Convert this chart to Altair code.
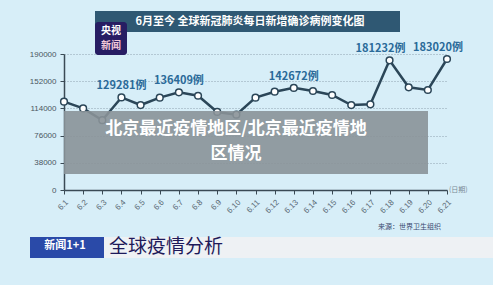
import altair as alt
import pandas as pd

dates = ["6.1","6.2","6.3","6.4","6.5","6.6","6.7","6.8","6.9","6.10","6.11",
         "6.12","6.13","6.14","6.15","6.16","6.17","6.18","6.19","6.20","6.21"]
cases = [123400, 114000, 97500, 129281, 118700, 129000, 136409, 131700, 109000, 105200, 129000,
         137300, 142672, 138300, 132700, 118700, 119700, 181232, 143500, 139700, 183020]
label_dates = ["6.4", "6.7", "6.13"]
label_dates_shift = ["6.18", "6.21"]
y_ticks = [0, 38000, 76000, 114000, 152000, 190000]

df = pd.DataFrame({"date": dates, "cases": cases})
df["label"] = [f"{v}例" for v in cases]

PL, PT, W, H = 64, 54, 383, 136

x = alt.X("date:O", sort=dates, scale=alt.Scale(type="point", padding=0),
          axis=alt.Axis(title=None, labelAngle=315, labelFontSize=8, labelColor="#5a6a75",
                        domainColor="#3a4a55", domainWidth=1.5, tickColor="#3a4a55",
                        tickSize=4, labelPadding=4, grid=False))
y = alt.Y("cases:Q", scale=alt.Scale(domain=[0, 190000], nice=False),
          axis=alt.Axis(title=None, values=y_ticks, format="d", labelFontSize=8,
                        labelColor="#4a5560",
                        domainColor="#3a4a55", domainWidth=1.5, tickColor="#3a4a55",
                        tickSize=4, grid=True, gridColor="#8fa3b0", gridDash=[1, 2],
                        gridWidth=1, labelPadding=4))

base = alt.Chart(df)
line = base.mark_line(color="#2b4658", strokeWidth=2.5).encode(x=x, y=y)
pts = base.mark_point(filled=True, fill="white", stroke="#2b4658", strokeWidth=1.5,
                      size=45, opacity=1).encode(x=x, y=y)
lab1 = base.mark_text(fontSize=11, fontWeight="bold", color="#2a6a99", dy=-11,
                      font="Noto Sans CJK SC").encode(
    x=x, y=y, text="label:N").transform_filter(alt.FieldOneOfPredicate(field="date", oneOf=label_dates))
lab2 = base.mark_text(fontSize=11, fontWeight="bold", color="#2a6a99", dy=-11, dx=-9,
                      font="Noto Sans CJK SC").encode(
    x=x, y=y, text="label:N").transform_filter(alt.FieldOneOfPredicate(field="date", oneOf=label_dates_shift))

def px(v):
    return alt.value(v - PL)
def py(v):
    return alt.value(v - PT)

one = alt.Chart(pd.DataFrame({"k": [0]}))

# title banner
banner = one.mark_rect(color="#2f5873").encode(x=px(95), x2=px(400), y=py(11), y2=py(32))
banner_t = one.mark_text(text="6月至今 全球新冠肺炎每日新增确诊病例变化图", color="white",
                         fontSize=11, fontWeight="bold", font="Noto Sans CJK SC").encode(
    x=px(250), y=py(22))
# logo
logo = one.mark_rect(color="#271d63", cornerRadius=3).encode(x=px(95), x2=px(127), y=py(22), y2=py(55))
logo_t1 = one.mark_text(text="央视", color="white", fontSize=10, fontWeight="bold",
                        font="Noto Sans CJK SC").encode(x=px(111), y=py(31))
logo_t2 = one.mark_text(text="新闻", color="#f3c9d8", fontSize=10, fontWeight="bold",
                        font="Noto Sans CJK SC").encode(x=px(111), y=py(46))
# x axis unit
unit = one.mark_text(text="(日期)", color="#7a8a95", fontSize=7, align="left",
                     font="Noto Sans CJK SC").encode(x=px(449), y=py(190))
# source
src = one.mark_text(text="来源：世界卫生组织", color="#3a4a70", fontSize=7, align="left",
                    font="Noto Sans CJK SC").encode(x=px(378), y=py(227))
# bottom bar
bar_w = one.mark_rect(color="#eef1f4").encode(x=px(104), x2=px(493), y=py(237), y2=py(258))
bar_b = one.mark_rect(color="#2a4aa8").encode(x=px(30), x2=px(104), y=py(237), y2=py(258))
bar_bt = one.mark_text(text="新闻1+1", color="white", fontSize=11, fontWeight="bold",
                       font="Noto Sans CJK SC").encode(x=px(65), y=py(246))
bar_t = one.mark_text(text="全球疫情分析", color="#1e1a5a", fontSize=19, align="left",
                      font="Noto Sans CJK SC").encode(x=px(109), y=py(247))
# overlay
ov = one.mark_rect(color="#8a9298", opacity=0.9).encode(x=px(64), x2=px(428), y=py(111), y2=py(174))
ov_t1 = one.mark_text(text="北京最近疫情地区/北京最近疫情地", color="white", fontSize=17,
                      fontWeight="bold", font="Noto Sans CJK SC").encode(x=px(236), y=py(129))
ov_t2 = one.mark_text(text="区情况", color="white", fontSize=17, fontWeight="bold",
                      font="Noto Sans CJK SC").encode(x=px(236), y=py(154))

chart = alt.layer(
    line, pts, lab1, lab2, banner, banner_t, logo, logo_t1, logo_t2, unit, src,
    bar_w, bar_b, bar_bt, bar_t, ov, ov_t1, ov_t2
).properties(
    width=W, height=H,
    autosize=alt.AutoSizeParams(type="none"),
    padding={"left": PL, "top": PT, "right": 493 - PL - W, "bottom": 285 - PT - H},
    background="#d7eef8",
).configure_view(stroke=None).configure_axis(labelFont="Liberation Sans")

chart.save("out.html", embed_options={"renderer": "svg", "actions": False})
